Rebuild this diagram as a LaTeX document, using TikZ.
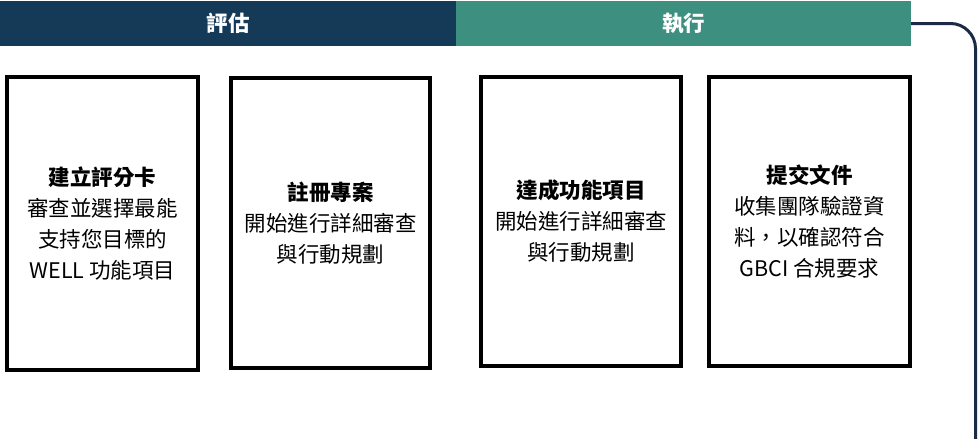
\documentclass[tikz,border=0pt]{standalone}
\usepackage{fontspec}
\setmainfont{Noto Sans CJK TC}
\definecolor{navy}{HTML}{143A58}
\definecolor{teal}{HTML}{3D8F7F}
\definecolor{linenavy}{HTML}{1B2A45}
\begin{document}
\begin{tikzpicture}[x=1pt,y=-1pt,
  bar/.style={inner sep=0pt, minimum height=45pt, text=white, font=\fontsize{21.5}{26}\selectfont\bfseries},
  card/.style={draw=black, line width=4pt, inner sep=0pt, minimum width=191pt, minimum height=293pt, align=center, font=\fontsize{21.5}{31}\selectfont},
  conn/.style={draw=linenavy, line width=3pt, rounded corners=25pt}]
\useasboundingbox (0,0) rectangle (980,439);
\fill[white] (0,0) rectangle (980,439);
\node[bar, fill=navy, minimum width=456pt] (eval) at (228,23.5) {評估};
\node[bar, fill=teal, minimum width=455pt] (exec) at (683.5,23.5) {執行};
\node[card] (c1) at (102.5,223.5) {\textbf{建立評分卡}\\審查並選擇最能\\支持您目標的\\WELL 功能項目};
\node[card, minimum width=199pt, minimum height=290pt] (c2) at (330.5,223) {\textbf{註冊專案}\\開始進行詳細審查\\與行動規劃};
\node[card, minimum width=200pt, minimum height=289pt] (c3) at (581,221.5) {\textbf{達成功能項目}\\開始進行詳細審查\\與行動規劃};
\node[card, minimum width=201pt, minimum height=289pt] (c4) at (809.5,221.5) {\textbf{提交文件}\\收集團隊驗證資\\料，以確認符合\\GBCI 合規要求};
\coordinate (down) at (975.5,450);
\draw[conn] (exec.east) -| (down);
\end{tikzpicture}
\end{document}
